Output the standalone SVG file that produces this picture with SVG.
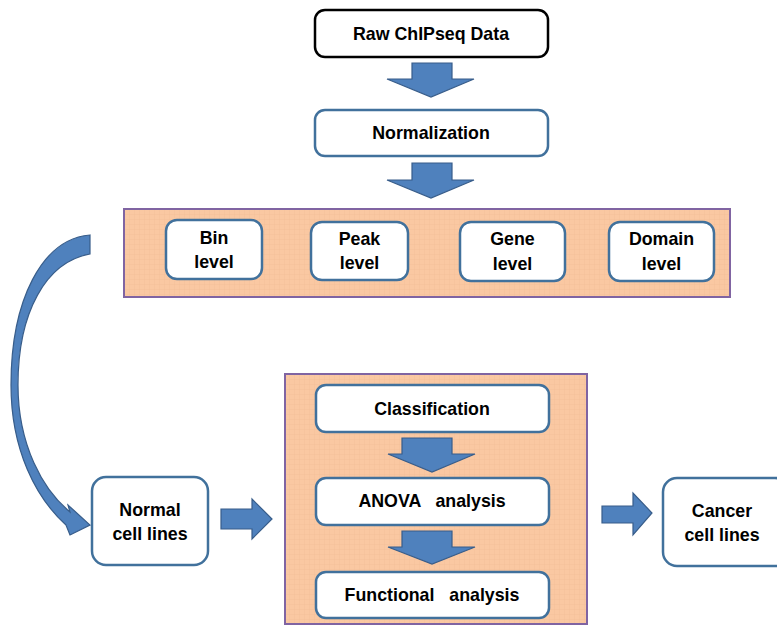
<svg xmlns="http://www.w3.org/2000/svg" width="777" height="626" viewBox="0 0 777 626">
<style>
.box{fill:#fff;stroke:#41719C;stroke-width:2.5}
.black{fill:#fff;stroke:#000;stroke-width:2.5}
.panel{fill:url(#grid);stroke:#8064A2;stroke-width:2}
.arr{fill:#4F81BD;stroke:#385D8A;stroke-width:1.2}
text{font-family:"Liberation Sans",Arial,sans-serif;font-weight:bold;font-size:17.8px;fill:#000;text-anchor:middle;white-space:pre}
</style>
<defs>
<pattern id="grid" width="5" height="5" patternUnits="userSpaceOnUse">
<rect width="5" height="5" fill="#FAC8A2"/>
<path d="M5 0V5H0" fill="none" stroke="#F3BC94" stroke-width="0.6"/>
</pattern>
</defs>
<g id="panel-top"><rect class="panel" x="124" y="209" width="606" height="88"/></g>
<g id="panel-bottom"><rect class="panel" x="285" y="374" width="302" height="250"/></g>
<g id="raw"><rect class="black" x="315" y="10" width="233" height="47" rx="10"/><text x="431" y="40">Raw ChIPseq Data</text></g>
<g id="normalization"><rect class="box" x="315" y="110" width="233" height="46" rx="10"/><text x="431" y="139">Normalization</text></g>
<g id="bin"><rect class="box" x="166" y="220" width="96" height="59" rx="11"/><text x="214" y="244">Bin</text><text x="214" y="268">level</text></g>
<g id="peak"><rect class="box" x="311" y="222" width="97" height="58" rx="11"/><text x="359.5" y="245">Peak</text><text x="359.5" y="269">level</text></g>
<g id="gene"><rect class="box" x="460" y="222" width="105" height="59" rx="11"/><text x="512.5" y="245">Gene</text><text x="512.5" y="270">level</text></g>
<g id="domain"><rect class="box" x="609" y="222" width="105" height="59" rx="11"/><text x="661.5" y="245">Domain</text><text x="661.5" y="270">level</text></g>
<g id="normal"><rect class="box" x="92" y="477" width="116" height="88" rx="14"/><text x="150" y="516">Normal</text><text x="150" y="540">cell lines</text></g>
<g id="classification"><rect class="box" x="316" y="385" width="233" height="47" rx="10"/><text x="432" y="415">Classification</text></g>
<g id="anova"><rect class="box" x="316" y="478" width="233" height="47" rx="10"/><text x="432" y="507">ANOVA   analysis</text></g>
<g id="functional"><rect class="box" x="316" y="572" width="233" height="46" rx="10"/><text x="432" y="601">Functional   analysis</text></g>
<g id="cancer"><rect class="box" x="663" y="478" width="126" height="88" rx="14"/><text x="722" y="517">Cancer</text><text x="722" y="541">cell lines</text></g>
<g id="connectors">
<path class="arr" d="M412 63H452V79H474L431 97L387 79H412Z"/>
<path class="arr" d="M412 163H452V180H474L431 198L387 180H412Z"/>
<path class="arr" d="M402 438H452V454H475L432 472L388 454H402Z"/>
<path class="arr" d="M402 531H452V547H475L432 564L388 547H402Z"/>
<path class="arr" d="M221 509H252V499L272 519L252 539V529H221Z"/>
<path class="arr" d="M602 506H633V493L652 513L633 535V523H602Z"/>
<path class="arr" d="M90 235 C42 239 11 300 11 385 C11 450 36 498 66 525 L70 535 L90 525 L68 505 L70 512 C43 490 18 445 18 385 C18 312 46 262 90 254 Z"/>
</g>
</svg>
